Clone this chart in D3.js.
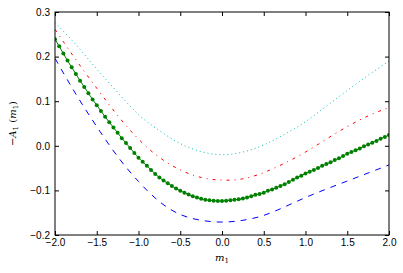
<!DOCTYPE html>
<html>
<head>
<meta charset="utf-8">
<script src="https://cdn.jsdelivr.net/npm/d3@7"></script>
<style>
  body { margin: 0; background: #fff; }
  svg { display: block; font-family: "DejaVu Sans", sans-serif; }
  .tick text { font-size: 10px; fill: #000; }
</style>
</head>
<body>
<div id="chart"></div>
<script>
// values
const mCoarse = [-2, -1.75, -1.5, -1.25, -1, -0.75, -0.5, -0.25, 0, 0.25, 0.5, 0.75, 1, 1.25, 1.5, 1.75, 2];
const cyanVals = [0.276, 0.227, 0.172, 0.120, 0.070, 0.034, 0.005, -0.013, -0.020, -0.014, 0.002, 0.026, 0.054, 0.089, 0.124, 0.158, 0.190];
const redVals = [0.261, 0.193, 0.129, 0.068, 0.015, -0.026, -0.054, -0.071, -0.077, -0.074, -0.060, -0.039, -0.014, 0.015, 0.043, 0.067, 0.086];
const blueVals = [0.196, 0.116, 0.043, -0.024, -0.080, -0.125, -0.154, -0.167, -0.171, -0.167, -0.156, -0.137, -0.116, -0.097, -0.079, -0.061, -0.043];

// green series is sampled finer (step 0.05 from -2 to 2)
const greenVals = [
  0.239, 0.223, 0.207, 0.191, 0.176, 0.161, 0.146, 0.132, 0.118, 0.104,
  0.091, 0.078, 0.065, 0.053, 0.041, 0.029, 0.017, 0.006, -0.005, -0.016,
  -0.027, -0.036, -0.045, -0.054, -0.063, -0.071, -0.078, -0.084, -0.090, -0.096,
  -0.101, -0.105, -0.109, -0.113, -0.116, -0.119, -0.121, -0.122, -0.123, -0.124,
  -0.124, -0.123, -0.122, -0.121, -0.120, -0.118, -0.116, -0.113, -0.110, -0.108,
  -0.105, -0.101, -0.098, -0.094, -0.090, -0.086, -0.081, -0.076, -0.071, -0.067,
  -0.062, -0.058, -0.054, -0.050, -0.045, -0.041, -0.037, -0.032, -0.028, -0.023,
  -0.018, -0.014, -0.010, -0.006, -0.001, 0.003, 0.007, 0.011, 0.016, 0.020,
  0.024
];
const mFine = greenVals.map((v, i) => -2 + i * 0.05);

const xTicks = [-2, -1.5, -1, -0.5, 0, 0.5, 1, 1.5, 2];
const yTicks = [-0.2, -0.1, 0, 0.1, 0.2, 0.3];

// layout
const W = 403, H = 273;
const margin = { top: 12, right: 14, bottom: 38, left: 55 };
const width = W - margin.left - margin.right;
const height = H - margin.top - margin.bottom;

const svg = d3.select("#chart").append("svg")
    .attr("width", W)
    .attr("height", H);

const g = svg.append("g")
    .attr("transform", `translate(${margin.left},${margin.top})`);

const x = d3.scaleLinear().domain([-2, 2]).range([0, width]);
const y = d3.scaleLinear().domain([-0.2, 0.3]).range([height, 0]);

const fmt = d => d3.format(".1f")(d).replace("-", "\u2212");

// clip so curves stay inside the frame
g.append("clipPath").attr("id", "clip")
  .append("rect").attr("width", width).attr("height", height);

const plot = g.append("g").attr("clip-path", "url(#clip)");

const line = d3.line()
    .x(d => x(d[0]))
    .y(d => y(d[1]))
    .curve(d3.curveNatural);

const series = [
  { vals: cyanVals, color: "#00bfbf", dash: "1,3" },
  { vals: redVals, color: "#ff0000", dash: "3,5,1,5" },
  { vals: blueVals, color: "#0000ff", dash: "6,6" }
];

series.forEach(s => {
  plot.append("path")
    .datum(mCoarse.map((m, i) => [m, s.vals[i]]))
    .attr("d", line)
    .attr("fill", "none")
    .attr("stroke", s.color)
    .attr("stroke-width", 1)
    .attr("stroke-dasharray", s.dash);
});

const greenData = mFine.map((m, i) => [m, greenVals[i]]);
plot.append("path")
    .datum(greenData)
    .attr("d", line)
    .attr("fill", "none")
    .attr("stroke", "#008000")
    .attr("stroke-width", 1);

plot.append("g")
  .selectAll("circle")
  .data(greenData)
  .join("circle")
    .attr("cx", d => x(d[0]))
    .attr("cy", d => y(d[1]))
    .attr("r", 2)
    .attr("fill", "#008000");

// axes: ticks point inward, on all four sides
const tl = 4;
g.append("g")
    .attr("transform", `translate(0,${height})`)
    .call(d3.axisBottom(x).tickValues(xTicks).tickSizeInner(-tl).tickSizeOuter(0).tickPadding(4).tickFormat(fmt))
    .call(a => a.select(".domain").remove());

g.append("g")
    .call(d3.axisTop(x).tickValues(xTicks).tickSizeInner(-tl).tickSizeOuter(0).tickFormat(""))
    .call(a => a.select(".domain").remove());

g.append("g")
    .call(d3.axisLeft(y).tickValues(yTicks).tickSizeInner(-tl).tickSizeOuter(0).tickPadding(5).tickFormat(fmt))
    .call(a => a.select(".domain").remove());

g.append("g")
    .attr("transform", `translate(${width},0)`)
    .call(d3.axisRight(y).tickValues(yTicks).tickSizeInner(-tl).tickSizeOuter(0).tickFormat(""))
    .call(a => a.select(".domain").remove());

g.selectAll(".tick line").attr("stroke", "#000");

// frame
g.append("rect")
    .attr("width", width)
    .attr("height", height)
    .attr("fill", "none")
    .attr("stroke", "#000")
    .attr("stroke-width", 1);

// axis labels
const xl = svg.append("text")
    .attr("x", margin.left + width / 2)
    .attr("y", 261)
    .attr("text-anchor", "middle")
    .style("font-family", "'DejaVu Serif', serif")
    .style("font-size", "10px");
xl.append("tspan").style("font-style", "italic").text("m");
xl.append("tspan").attr("dy", 2).style("font-size", "7px").text("1");

const yl = svg.append("text")
    .attr("transform", `translate(16,${margin.top + height / 2}) rotate(-90)`)
    .attr("text-anchor", "middle")
    .style("font-family", "'DejaVu Serif', serif")
    .style("font-size", "10px");
yl.append("tspan").text("\u2212");
yl.append("tspan").style("font-style", "italic").text("A");
yl.append("tspan").attr("dy", 2).style("font-size", "7px").text("1");
yl.append("tspan").attr("dy", -2).text(" (");
yl.append("tspan").style("font-style", "italic").text("m");
yl.append("tspan").attr("dy", 2).style("font-size", "7px").text("1");
yl.append("tspan").attr("dy", -2).text(")");
</script>
</body>
</html>
